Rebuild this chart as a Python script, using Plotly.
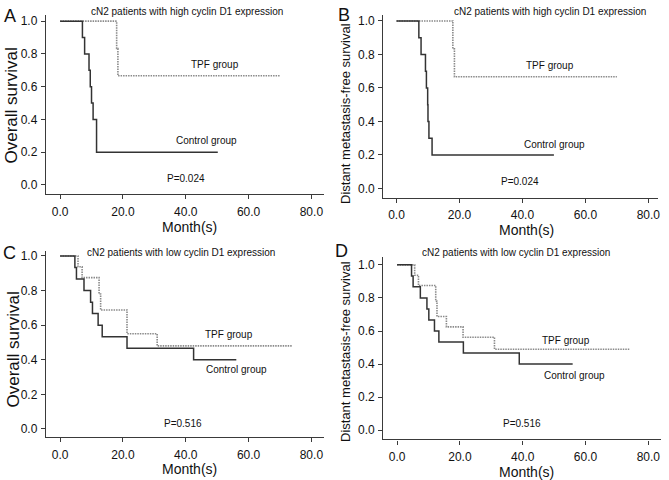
import plotly.graph_objects as go

W, H = 669, 480

# ---------------- data ----------------
# Panel A: overall survival, high cyclin D1
a_ctrl_t = [0, 7.1, 7.8, 9.2, 9.6, 10.0, 10.5, 11.6, 50.2]
a_ctrl_s = [1.0, 0.9, 0.8, 0.7, 0.6, 0.5, 0.4, 0.2, 0.2]
a_tpf_t = [0, 18.0, 18.4, 70.0]
a_tpf_s = [1.0, 0.833, 0.667, 0.667]

# Panel B: distant metastasis-free survival, high cyclin D1
b_ctrl_t = [0, 7.1, 7.8, 9.2, 9.5, 9.9, 10.0, 10.3, 11.3, 50.0]
b_ctrl_s = [1.0, 0.9, 0.8, 0.7, 0.6, 0.5, 0.4, 0.3, 0.2, 0.2]
b_tpf_t = [0, 17.9, 18.4, 70.0]
b_tpf_s = [1.0, 0.833, 0.667, 0.667]

# Panel C: overall survival, low cyclin D1
c_ctrl_t = [0, 4.7, 5.2, 7.6, 9.7, 10.3, 12.1, 13.4, 21.3, 42.5, 56.1]
c_ctrl_s = [1.0, 0.933, 0.867, 0.8, 0.733, 0.667, 0.6, 0.533, 0.467, 0.4, 0.4]
c_tpf_t = [0, 5.7, 7.0, 12.4, 12.9, 21.3, 30.9, 74.0]
c_tpf_s = [1.0, 0.9375, 0.875, 0.78, 0.6875, 0.55, 0.48, 0.48]

# Panel D: distant metastasis-free survival, low cyclin D1
d_ctrl_t = [0, 4.6, 5.1, 7.4, 9.5, 10.1, 11.9, 13.3, 21.1, 38.9, 55.9]
d_ctrl_s = [1.0, 0.933, 0.867, 0.8, 0.733, 0.667, 0.6, 0.533, 0.467, 0.4, 0.4]
d_tpf_t = [0, 5.6, 6.8, 12.3, 12.7, 15.7, 21.0, 31.0, 74.1]
d_tpf_s = [1.0, 0.9375, 0.875, 0.78, 0.6875, 0.625, 0.5625, 0.49, 0.49]

x_ticks = [0, 20, 40, 60, 80]
y_ticks = [0.0, 0.2, 0.4, 0.6, 0.8, 1.0]

panel_letters = ["A", "B", "C", "D"]
panel_titles = ["cN2 patients with high cyclin D1 expression",
                "cN2 patients with high cyclin D1 expression",
                "cN2 patients with low cyclin D1 expression",
                "cN2 patients with low cyclin D1 expression"]
y_titles = ["Overall survival", "Distant metastasis-free survival",
            "Overall survival", "Distant metastasis-free survival"]
p_values = ["P=0.024", "P=0.024", "P=0.516", "P=0.516"]
x_title = "Month(s)"
group_tpf = "TPF group"
group_ctrl = "Control group"

# ---------------- layout geometry (pixels) ----------------
panels = [
    dict(px=(46, 325), py=(192.7, 13), xr=(-4.54, 84.03), yr=(-0.0547, 1.038),
         ctrl=(a_ctrl_t, a_ctrl_s), tpf=(a_tpf_t, a_tpf_s),
         title=(188, 10), tpf_lab=(216, 63), ctrl_lab=(207, 139), p=(187, 177),
         letter=(10, 14.5), ytit=(12, 104), xtit=(190, 225.5), ytsize=17, so=3),
    dict(px=(384.3, 660), py=(196.7, 13), xr=(-4.24, 83.07), yr=(-0.0559, 1.0357),
         ctrl=(b_ctrl_t, b_ctrl_s), tpf=(b_tpf_t, b_tpf_s),
         title=(552, 10), tpf_lab=(552, 64), ctrl_lab=(556, 143), p=(522, 180),
         letter=(345, 13), ytit=(346.5, 112), xtit=(528, 229), ytsize=13, so=2),
    dict(px=(46, 325), py=(436.7, 250), xr=(-4.54, 84.03), yr=(-0.046, 1.029),
         ctrl=(c_ctrl_t, c_ctrl_s), tpf=(c_tpf_t, c_tpf_s),
         title=(182, 252), tpf_lab=(230, 334), ctrl_lab=(237, 369), p=(184, 423),
         letter=(10, 252), ytit=(14, 349), xtit=(190, 469), ytsize=17, so=3),
    dict(px=(384.3, 663), py=(439.3, 256), xr=(-4.44, 84.03), yr=(-0.056, 1.048),
         ctrl=(d_ctrl_t, d_ctrl_s), tpf=(d_tpf_t, d_tpf_s),
         title=(518, 252), tpf_lab=(568, 340), ctrl_lab=(576, 375), p=(524, 423),
         letter=(343, 250), ytit=(346.5, 351), xtit=(528, 471.5), ytsize=13, so=2),
]

FONT = "Arial, Liberation Sans, sans-serif"
AXC = "#3a3a3a"
CTRL_C = "#333333"
TPF_C = "#8a8a8a"

fig = go.Figure()
layout = dict(width=W, height=H, margin=dict(l=0, r=0, t=0, b=0),
              paper_bgcolor="white", plot_bgcolor="white", showlegend=False,
              font=dict(family=FONT, color="#111"))
annotations = []


def pap(x, y):
    return x / W, 1 - y / H


for i, p in enumerate(panels):
    n = "" if i == 0 else str(i + 1)
    xa, ya = "x" + n, "y" + n
    fig.add_trace(go.Scatter(x=p["tpf"][0], y=p["tpf"][1], mode="lines",
                             line=dict(shape="hv", color=TPF_C, width=1.6, dash="1.5px,1px"),
                             xaxis=xa, yaxis=ya, hoverinfo="skip"))
    fig.add_trace(go.Scatter(x=p["ctrl"][0], y=p["ctrl"][1], mode="lines",
                             line=dict(shape="hv", color=CTRL_C, width=1.5),
                             xaxis=xa, yaxis=ya, hoverinfo="skip"))
    common = dict(showgrid=False, zeroline=False, showline=True, linecolor=AXC,
                  linewidth=1.2, ticks="outside", ticklen=4, tickwidth=1,
                  tickcolor=AXC, tickformat=".1f",
                  tickfont=dict(size=12, family=FONT, color="#111"))
    layout["xaxis" + n] = dict(common, domain=[p["px"][0] / W, p["px"][1] / W],
                               range=list(p["xr"]), tickvals=x_ticks,
                               anchor=ya, fixedrange=True, ticklabelstandoff=p["so"])
    layout["yaxis" + n] = dict(common, domain=[1 - p["py"][0] / H, 1 - p["py"][1] / H],
                               range=list(p["yr"]), tickvals=y_ticks,
                               anchor=xa, fixedrange=True, ticklabelstandoff=1)

    def ann(text, pos, size, angle=0):
        x, y = pap(*pos)
        annotations.append(dict(text=text, x=x, y=y, xref="paper", yref="paper",
                                xanchor="center", yanchor="middle", showarrow=False,
                                textangle=angle, borderpad=0,
                                font=dict(size=size, family=FONT, color="#111")))

    ann(panel_titles[i], p["title"], 10)
    ann(group_tpf, p["tpf_lab"], 10)
    ann(group_ctrl, p["ctrl_lab"], 10)
    ann(p_values[i], p["p"], 10)
    ann(panel_letters[i], p["letter"], 18)
    ann(y_titles[i], p["ytit"], p["ytsize"], -90)
    ann(x_title, p["xtit"], 14)

layout["annotations"] = annotations
fig.update_layout(**layout)
fig.write_html("out.html", config={"displayModeBar": False},
               post_script="document.body.style.margin='0';"
                           "document.body.style.overflow='hidden';")
